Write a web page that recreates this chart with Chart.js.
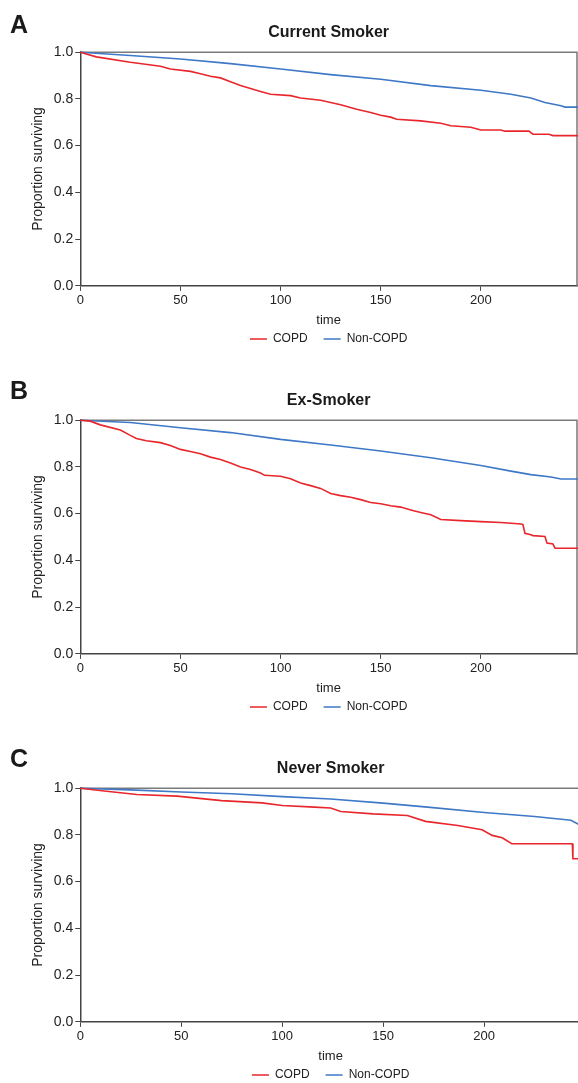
<!DOCTYPE html>
<html>
<head>
<meta charset="utf-8">
<script src="https://cdn.jsdelivr.net/npm/chart.js@4"></script>
<style>
  body { margin: 0; width: 578px; height: 1083px; overflow: hidden; background: #fff; position: relative; font-family: 'Liberation Sans', Arial, sans-serif; }
  .panel { position: absolute; left: 0; width: 578px; height: 368px; overflow: hidden; }
  .panel canvas { position: absolute; left: 0; top: 0; }
  .letter { position: absolute; left: 10px; font-size: 25px; line-height: 25px; font-weight: bold; color: #1a1a1a; }
</style>
</head>
<body>
<div class="panel" style="top:0px"><canvas id="chartA" width="578" height="368"></canvas><div class="letter" style="top:12px">A</div></div>
<div class="panel" style="top:368px"><canvas id="chartB" width="578" height="368"></canvas><div class="letter" style="top:10px">B</div></div>
<div class="panel" style="top:736px; height:347px"><canvas id="chartC" width="582" height="368"></canvas><div class="letter" style="top:10px">C</div></div>
<script>
'use strict';

const groups = ['Current Smoker', 'Ex-Smoker', 'Never Smoker'];
const seriesNames = ['COPD', 'Non-COPD'];
const xTickValues = [0, 50, 100, 150, 200];
const yTickValues = [0, 0.2, 0.4, 0.6, 0.8, 1.0];

// Current smoker
const currentCopdTime = [0, 8, 25, 40, 45, 55, 60, 65, 70, 75, 80, 90, 95, 105, 110, 120, 130, 138, 145, 150, 155, 158, 170, 180, 185, 195, 200, 210, 212, 224, 226, 234, 236, 249];
const currentCopdSurv = [1.0, 0.98, 0.957, 0.94, 0.928, 0.918, 0.908, 0.897, 0.89, 0.874, 0.857, 0.832, 0.82, 0.814, 0.804, 0.794, 0.775, 0.756, 0.742, 0.73, 0.722, 0.713, 0.706, 0.696, 0.685, 0.679, 0.667, 0.667, 0.662, 0.662, 0.649, 0.649, 0.643, 0.643];
const currentNonTime = [0, 25, 50, 75, 100, 125, 150, 175, 200, 215, 225, 232, 240, 242, 249];
const currentNonSurv = [1.0, 0.986, 0.971, 0.951, 0.928, 0.904, 0.884, 0.857, 0.837, 0.82, 0.804, 0.785, 0.771, 0.765, 0.765];

// Ex-smoker
const exCopdTime = [0, 5, 10, 20, 25, 28, 33, 40, 45, 50, 55, 60, 65, 70, 75, 80, 85, 90, 92, 100, 105, 110, 115, 120, 125, 130, 135, 140, 145, 150, 155, 160, 165, 170, 175, 180, 190, 200, 210, 220, 221, 222, 225, 226, 232, 233, 236, 237, 249];
const exCopdSurv = [1.0, 0.996, 0.98, 0.958, 0.935, 0.922, 0.912, 0.904, 0.892, 0.875, 0.866, 0.856, 0.842, 0.832, 0.817, 0.8, 0.789, 0.774, 0.764, 0.76, 0.749, 0.731, 0.72, 0.708, 0.686, 0.677, 0.67, 0.66, 0.648, 0.642, 0.634, 0.628, 0.616, 0.605, 0.595, 0.575, 0.57, 0.566, 0.562, 0.556, 0.553, 0.516, 0.51, 0.506, 0.502, 0.474, 0.47, 0.452, 0.452];
const exNonTime = [0, 25, 50, 75, 100, 125, 150, 175, 200, 215, 225, 235, 240, 249];
const exNonSurv = [1.0, 0.99, 0.968, 0.947, 0.918, 0.894, 0.868, 0.839, 0.806, 0.782, 0.767, 0.757, 0.748, 0.748];

// Never smoker
const neverCopdTime = [0, 13, 28, 48, 70, 90, 100, 116, 124, 129, 145, 162, 171, 187, 199, 204, 209, 213.7, 243.7, 244, 249];
const neverCopdSurv = [1.0, 0.987, 0.973, 0.966, 0.947, 0.937, 0.926, 0.919, 0.915, 0.9, 0.89, 0.883, 0.858, 0.84, 0.822, 0.798, 0.788, 0.762, 0.762, 0.698, 0.698];
const neverNonTime = [0, 25, 50, 75, 100, 124, 150, 172, 200, 225, 243, 247, 249];
const neverNonSurv = [1.0, 0.993, 0.984, 0.976, 0.964, 0.954, 0.936, 0.919, 0.896, 0.879, 0.863, 0.845, 0.838];

const red = '#e8262b';
const blue = '#3e78c6';

Chart.defaults.font.family = "'Liberation Sans', Arial, sans-serif";

// grey frame on top and right of plot area
const frame = {
  id: 'frame',
  beforeDatasetsDraw(chart) {
    const a = chart.chartArea;
    const ctx = chart.ctx;
    ctx.save();
    ctx.strokeStyle = '#7a7a7a';
    ctx.lineWidth = 1.5;
    ctx.beginPath();
    ctx.moveTo(a.left, a.top);
    ctx.lineTo(a.right, a.top);
    ctx.lineTo(a.right, a.bottom);
    ctx.stroke();
    ctx.restore();
  }
};

function toPoints(t, s) {
  return t.map((x, i) => ({ x: x, y: s[i] }));
}

function survivalChart(id, title, copdT, copdS, nonT, nonS, xMax) {
  const ctx = document.getElementById(id).getContext('2d');
  return new Chart(ctx, {
    type: 'line',
    data: {
      datasets: [{
        label: seriesNames[0],
        data: toPoints(copdT, copdS),
        borderColor: red,
        backgroundColor: red,
        borderWidth: 1.6,
        pointRadius: 0,
        pointStyle: 'line',
        tension: 0,
        clip: 3
      }, {
        label: seriesNames[1],
        data: toPoints(nonT, nonS),
        borderColor: blue,
        backgroundColor: blue,
        borderWidth: 1.6,
        pointRadius: 0,
        pointStyle: 'line',
        tension: 0,
        clip: 3
      }]
    },
    options: {
      responsive: false,
      animation: false,
      layout: { padding: { left: 30, right: 1, top: 0, bottom: 13 } },
      scales: {
        x: {
          type: 'linear',
          min: 0,
          max: xMax,
          afterBuildTicks: axis => { axis.ticks = xTickValues.map(v => ({ value: v })); },
          ticks: { color: '#222', font: { size: 13 }, padding: 2, maxRotation: 0 },
          grid: { drawOnChartArea: false, tickLength: 5, color: '#444' },
          border: { color: '#444', width: 1.5 },
          title: { display: true, text: 'time', color: '#222', font: { size: 13 }, padding: { top: 2, bottom: -11 } }
        },
        y: {
          min: 0,
          max: 1,
          afterBuildTicks: axis => { axis.ticks = yTickValues.map(v => ({ value: v })); },
          ticks: { color: '#222', font: { size: 14 }, padding: 2, callback: v => v.toFixed(1) },
          grid: { drawOnChartArea: false, tickLength: 5, color: '#444' },
          border: { color: '#444', width: 1.5 },
          title: { display: true, text: 'Proportion surviving', color: '#222', font: { size: 14 }, padding: { top: 0, bottom: 5 } }
        }
      },
      plugins: {
        title: {
          display: true,
          text: title,
          fullSize: false,
          color: '#1a1a1a',
          font: { size: 16, weight: 'bold' },
          padding: { top: 23, bottom: 10 }
        },
        legend: {
          position: 'bottom',
          fullSize: false,
          labels: { usePointStyle: true, pointStyleWidth: 17, color: '#222', font: { size: 12 }, padding: 16 }
        },
        tooltip: { enabled: false }
      }
    },
    plugins: [frame]
  });
}

survivalChart('chartA', groups[0], currentCopdTime, currentCopdSurv, currentNonTime, currentNonSurv, 248);
survivalChart('chartB', groups[1], exCopdTime, exCopdSurv, exNonTime, exNonSurv, 248);
survivalChart('chartC', groups[2], neverCopdTime, neverCopdSurv, neverNonTime, neverNonSurv, 248);
</script>
</body>
</html>
